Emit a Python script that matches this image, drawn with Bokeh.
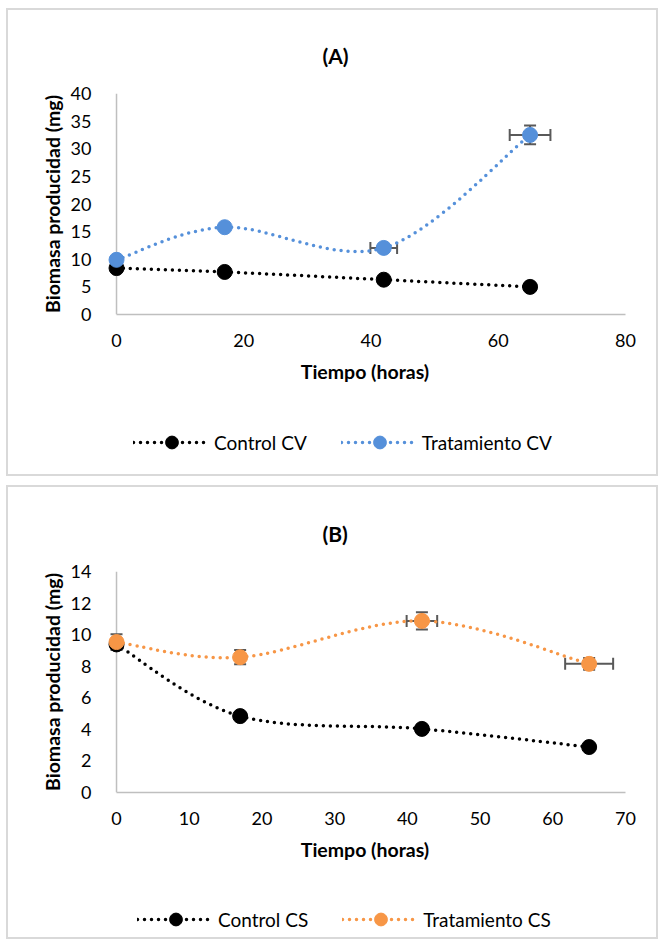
from bokeh.plotting import figure
from bokeh.models import (ColumnDataSource, Whisker, Legend, LegendItem, Span,
                          Range1d, FixedTicker, TeeHead, Spacer)
from bokeh.layouts import column, row
from bokeh.embed import file_html
from bokeh.resources import INLINE

# ---------------- data ----------------
hours = [0, 17, 42, 65]

control_cv = [8.4, 7.7, 6.3, 5.0]
trat_cv = [9.9, 15.8, 12.05, 32.5]
trat_cv_xerr = [0.0, 0.3, 2.1, 3.2]
trat_cv_yerr = [0.3, 0.4, 0.6, 1.7]

control_cs = [9.38, 4.84, 4.03, 2.88]
trat_cs = [9.53, 8.57, 10.87, 8.15]
trat_cs_xerr = [0.3, 0.4, 2.1, 3.3]
trat_cs_yerr = [0.5, 0.45, 0.55, 0.37]

yticks_a = [0, 5, 10, 15, 20, 25, 30, 35, 40]
xticks_a = [0, 20, 40, 60, 80]
yticks_b = [0, 2, 4, 6, 8, 10, 12, 14]
xticks_b = [0, 10, 20, 30, 40, 50, 60, 70]

FONT = "Lato"
BLUE = "#5590DA"
ORANGE = "#F79646"
BLACK = "#000000"
ERR = "#595959"
AXIS = "#BFBFBF"
BORDER = "2px solid #D9D9D9"


def smooth(xs, ys):
    """Excel-like smoothed line: Catmull-Rom converted to cubic Bezier segments."""
    n = len(xs)
    d = dict(x0=[], y0=[], x1=[], y1=[], cx0=[], cy0=[], cx1=[], cy1=[])
    for i in range(n - 1):
        xp, yp = (xs[i - 1], ys[i - 1]) if i > 0 else (xs[i], ys[i])
        xn, yn = (xs[i + 2], ys[i + 2]) if i + 2 < n else (xs[i + 1], ys[i + 1])
        d["x0"].append(xs[i]); d["y0"].append(ys[i])
        d["x1"].append(xs[i + 1]); d["y1"].append(ys[i + 1])
        d["cx0"].append(xs[i] + (xs[i + 1] - xp) / 6.0)
        d["cy0"].append(ys[i] + (ys[i + 1] - yp) / 6.0)
        d["cx1"].append(xs[i + 1] - (xn - xs[i]) / 6.0)
        d["cy1"].append(ys[i + 1] - (yn - ys[i]) / 6.0)
    return ColumnDataSource(d)


def add_series(p, ctrl, trat, trat_color, xerr=None, yerr=None):
    bz_c = p.bezier(x0="x0", y0="y0", x1="x1", y1="y1", cx0="cx0", cy0="cy0",
                    cx1="cx1", cy1="cy1", source=smooth(hours, ctrl),
                    line_color=BLACK, line_width=3.5, line_dash="0 7",
                    line_cap="round")
    sc_c = p.scatter(hours, ctrl, size=15, color=BLACK)
    src = ColumnDataSource(dict(x=hours, y=trat))
    if xerr is not None:
        src.data.update(
            xl=[a - b for a, b in zip(hours, xerr)], xu=[a + b for a, b in zip(hours, xerr)],
            yl=[a - b for a, b in zip(trat, yerr)], yu=[a + b for a, b in zip(trat, yerr)])
        for dim, base, lo, up in (("height", "x", "yl", "yu"), ("width", "y", "xl", "xu")):
            p.add_layout(Whisker(base=base, lower=lo, upper=up, source=src, dimension=dim,
                                 line_color=ERR, line_width=2,
                                 lower_head=TeeHead(size=12, line_color=ERR, line_width=2),
                                 upper_head=TeeHead(size=12, line_color=ERR, line_width=2)))
    bz_t = p.bezier(x0="x0", y0="y0", x1="x1", y1="y1", cx0="cx0", cy0="cy0",
                    cx1="cx1", cy1="cy1", source=smooth(hours, trat),
                    line_color=trat_color, line_width=3.5, line_dash="0 7",
                    line_cap="round")
    sc_t = p.scatter("x", "y", source=src, size=15, color=trat_color)
    return bz_c, sc_c, bz_t, sc_t


def panel(title, xmax, ymax, xticks, yticks, ctrl, trat, xerr, yerr,
          trat_color, labels, main_h, mb_top, mb_bottom, leg_h, leg_x, leg_y):
    frame_w = 508
    pad = 12 * xmax / frame_w
    p = figure(width=652, height=main_h,
               x_range=Range1d(-pad, xmax), y_range=Range1d(0, ymax),
               output_backend="svg", toolbar_location=None,
               min_border_left=96, min_border_right=35,
               min_border_top=mb_top, min_border_bottom=mb_bottom)
    p.styles = {"border": BORDER, "border-bottom": "none"}
    p.outline_line_color = None
    p.grid.visible = False

    p.title.text = title
    p.title.align = "left"
    p.title.offset = 218
    p.title.standoff = 52
    p.title.text_font = FONT
    p.title.text_font_style = "bold"
    p.title.text_font_size = "21px"
    p.title.text_color = "#000000"

    for ax in (p.xaxis[0], p.yaxis[0]):
        ax.axis_line_color = AXIS
        ax.axis_line_width = 1.5
        ax.major_tick_line_color = None
        ax.minor_tick_line_color = None
        ax.major_label_text_font = FONT
        ax.major_label_text_font_size = "18px"
        ax.major_label_text_color = "#000000"
        ax.axis_label_text_font = FONT
        ax.axis_label_text_font_style = "bold"
        ax.axis_label_text_font_size = "19.5px"
        ax.axis_label_text_color = "#000000"
    p.yaxis.axis_line_color = None
    p.add_layout(Span(location=0, dimension="height", line_color=AXIS,
                      line_width=1.5, level="underlay"))
    p.xaxis.ticker = FixedTicker(ticks=xticks)
    p.yaxis.ticker = FixedTicker(ticks=yticks)
    p.xaxis.bounds = (0, xmax)
    p.xaxis.axis_label = "Tiempo (horas)"
    p.yaxis.axis_label = "Biomasa producidad (mg)"
    p.xaxis.major_label_standoff = 13
    p.yaxis.major_label_standoff = 7
    p.xaxis.axis_label_standoff = 10
    p.yaxis.axis_label_standoff = 4

    add_series(p, ctrl, trat, trat_color, xerr, yerr)

    # legend strip (same series, drawn far outside its visible range)
    lf = figure(width=652, height=leg_h, x_range=Range1d(1000, 1001),
                y_range=Range1d(1000, 1001), output_backend="svg",
                toolbar_location=None, x_axis_location=None, y_axis_location=None,
                min_border=0)
    lf.styles = {"border": BORDER, "border-top": "none"}
    lf.outline_line_color = None
    lf.grid.visible = False
    bz_c, sc_c, bz_t, sc_t = add_series(lf, ctrl, trat, trat_color)
    legend = Legend(items=[LegendItem(label=labels[0], renderers=[bz_c, sc_c]),
                           LegendItem(label=labels[1], renderers=[bz_t, sc_t])],
                    orientation="horizontal", location=(leg_x, leg_y),
                    glyph_width=77, glyph_height=32, label_standoff=4,
                    spacing=34, padding=0, margin=0,
                    border_line_color=None, background_fill_alpha=0,
                    label_text_font=FONT, label_text_font_size="19px",
                    label_text_color="#000000")
    lf.add_layout(legend)
    return column(p, lf, spacing=0)


pa = panel("(A)", 80, 40, xticks_a, yticks_a, control_cv, trat_cv,
           trat_cv_xerr, trat_cv_yerr, BLUE, ["Control CV", "Tratamiento CV"],
           390, 83, 86, 78, 29, 18)
pb = panel("(B)", 70, 14, xticks_b, yticks_b, control_cs, trat_cs,
           trat_cs_xerr, trat_cs_yerr, ORANGE, ["Control CS", "Tratamiento CS"],
           381, 84, 76, 73, 33, 4)

layout = column(Spacer(height=8),
                row(Spacer(width=6), column(pa, pb, spacing=9), spacing=0),
                spacing=0)
open("out.html", "w").write(file_html(layout, INLINE))
